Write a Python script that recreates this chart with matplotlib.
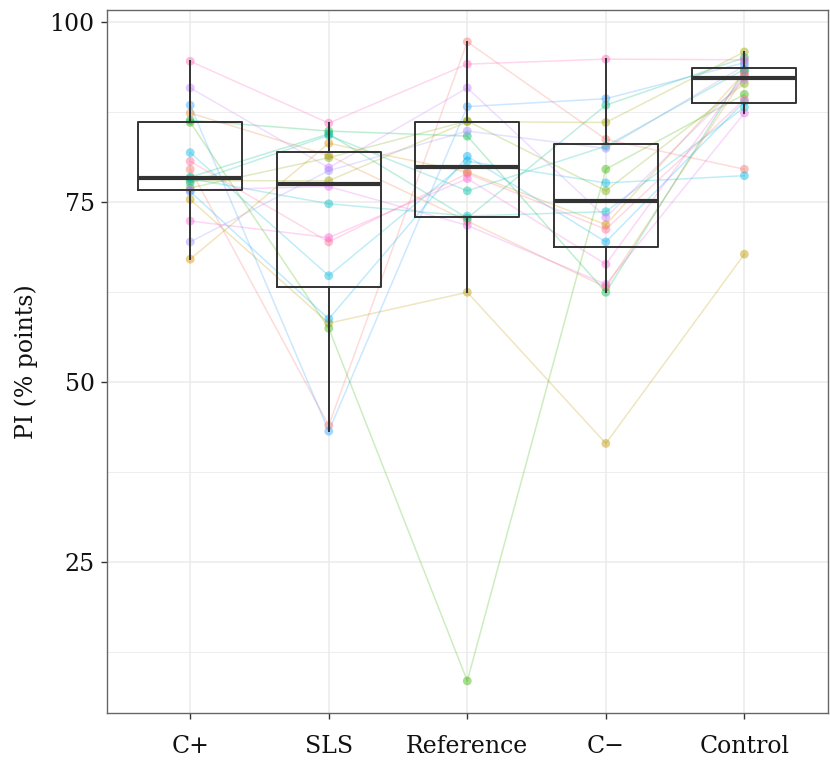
import numpy as np
import matplotlib
matplotlib.use('Agg')
import matplotlib.pyplot as plt

# conditions on the x axis
conditions = ['C+', 'SLS', 'Reference', 'C\u2212', 'Control']

# PI per subject (index = subject), one list per condition
c_plus = [79.6, 87.4, 67.1, 75.4, 78.0, 77.0, 86.1, 86.4, 78.5, 77.7,
          78.3, 81.9, 76.5, 88.5, 69.5, 90.9, 76.7, 72.4, 94.6, 80.7]
sls = [44.0, 81.5, 83.2, 58.2, 78.0, 81.2, 57.5, 84.9, 84.5, 84.3,
       74.8, 64.8, 58.8, 43.2, 79.4, 79.8, 77.2, 70.1, 86.0, 69.5]
reference = [97.3, 72.4, 79.2, 62.5, 86.2, 86.3, 8.5, 84.2, 72.8, 76.6,
             73.1, 80.7, 81.4, 88.3, 84.9, 90.9, 71.8, 78.3, 94.2, 79.0]
c_minus = [83.75, 63.2, 71.9, 41.5, 86.1, 76.6, 79.6, 62.5, 88.5, 82.8,
           73.7, 77.7, 69.5, 89.4, 82.5, 72.9, 63.6, 66.4, 94.9, 71.25]
control = [79.6, 92.5, 93.0, 67.8, 95.9, 91.5, 90.0, 93.3, 95.1, 93.5,
           88.2, 78.7, 89.0, 94.4, 94.0, 92.1, 87.4, 92.8, 94.8, 89.3]

y_ticks = [25, 50, 75, 100]
y_label = 'PI (% points)'


def hue_pal(n, c=100.0, l=65.0):
    # ggplot2 default discrete palette (polar LUV -> sRGB)
    hues = np.linspace(15, 375, n + 1)[:n]
    xn, yn, zn = 95.047, 100.0, 108.883
    un = 4 * xn / (xn + 15 * yn + 3 * zn)
    vn = 9 * yn / (xn + 15 * yn + 3 * zn)
    Y = yn * ((l + 16) / 116) ** 3
    m = np.array([[3.2404542, -1.5371385, -0.4985314],
                  [-0.9692660, 1.8760108, 0.0415560],
                  [0.0556434, -0.2040259, 1.0572252]])
    out = []
    for h in hues:
        u = c * np.cos(np.radians(h))
        v = c * np.sin(np.radians(h))
        up = u / (13 * l) + un
        vp = v / (13 * l) + vn
        X = Y * 9 * up / (4 * vp)
        Z = Y * (12 - 3 * up - 20 * vp) / (4 * vp)
        rgb = m @ (np.array([X, Y, Z]) / 100.0)
        rgb = np.where(rgb <= 0.0031308, 12.92 * rgb, 1.055 * np.abs(rgb) ** (1 / 2.4) - 0.055)
        out.append(tuple(np.clip(rgb, 0, 1)))
    return out


data = np.array([c_plus, sls, reference, c_minus, control])
n_subj = data.shape[1]
colors = hue_pal(n_subj)
xpos = np.arange(1, len(conditions) + 1)

plt.rcParams['font.family'] = ['DejaVu Serif']

fig = plt.figure(figsize=(8.3, 7.6), dpi=100)
ax = fig.add_axes([0.129, 0.062, 0.868, 0.925])

for s in range(n_subj):
    ax.plot(xpos, data[:, s], color=colors[s], alpha=0.25, lw=1.1, zorder=2)
    ax.scatter(xpos, data[:, s], color=colors[s], alpha=0.45, s=40,
               edgecolors='none', zorder=3)

ax.boxplot([list(v) for v in data], positions=xpos, widths=0.75,
           showfliers=False, showcaps=False, whis=1.5,
           boxprops=dict(color='#333333', lw=1.4),
           whiskerprops=dict(color='#333333', lw=1.4),
           medianprops=dict(color='#333333', lw=3.0),
           zorder=4)

lo, hi = data.min(), data.max()
pad = (hi - lo) * 0.05
ax.set_ylim(lo - pad, hi + pad)
ax.set_xlim(0.4, len(conditions) + 0.6)

ax.set_yticks(y_ticks)
ax.set_yticks([12.5, 37.5, 62.5, 87.5], minor=True)
ax.set_xticks(xpos)
ax.set_xticklabels(conditions)

ax.grid(True, which='major', color='#ebebeb', lw=1.1)
ax.grid(True, which='minor', axis='y', color='#ebebeb', lw=0.6)
ax.set_axisbelow(True)

for sp in ax.spines.values():
    sp.set_color('#666666')
    sp.set_linewidth(1.0)

ax.tick_params(axis='both', which='major', labelsize=17, colors='#333333',
               length=4, width=1.0, labelcolor='#111111', pad=5)
ax.tick_params(axis='x', which='major', pad=12)
ax.tick_params(axis='y', which='minor', length=0)
ax.set_ylabel(y_label, fontsize=17, color='#111111', labelpad=8)

fig.savefig('out.png', dpi=100, facecolor='white')
